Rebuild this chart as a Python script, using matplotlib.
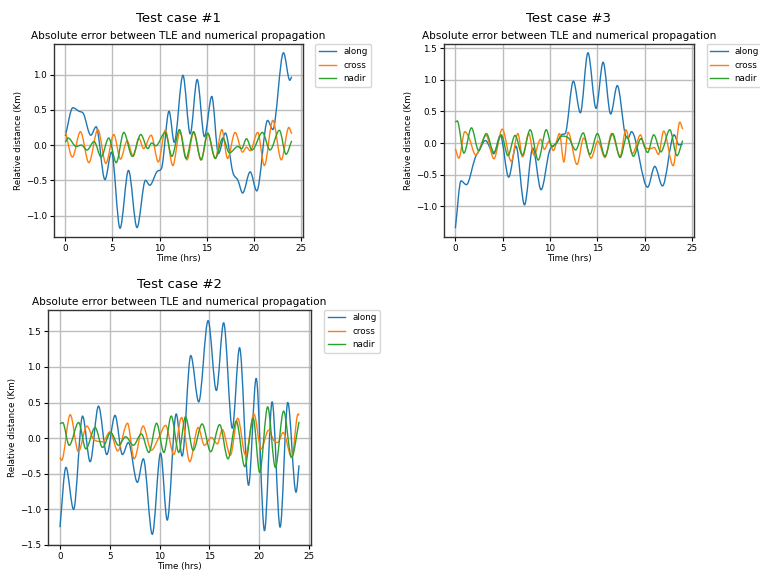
#!/usr/bin/env python3
"""
TLE vs numerical propagation: along / cross / nadir error for three test cases.
Values are the turning points read off the original figure (time in hrs, km).
"""
import numpy as np
import matplotlib

matplotlib.use("Agg")
import matplotlib.pyplot as plt
from matplotlib.path import Path
from matplotlib.patches import PathPatch
from matplotlib.lines import Line2D

# ---- test case #1
c1_along_t = [0, 0.8, 1.45, 1.9, 2.7, 3.27, 4.2, 4.9, 5.8, 6.7, 7.6, 8.5, 8.95, 9.7, 10.2, 11.0,
              11.55, 12.47, 13.24, 13.98, 14.75, 15.53, 16.23, 16.97, 17.75, 18.3, 18.8, 19.6,
              20.3, 21.45, 22.0, 23.13, 23.8, 24.0]
c1_along = [0.13, 0.53, 0.48, 0.45, 0.14, 0.26, -0.49, -0.10, -1.18, -0.36, -1.17, -0.50, -0.57,
            -0.38, -0.33, 0.48, 0.04, 0.99, 0.16, 0.93, 0.12, 0.69, -0.12, 0.17, -0.38, -0.50,
            -0.68, -0.38, -0.65, 0.35, 0.22, 1.31, 0.92, 0.97]
c1_cross_t = [0, 0.75, 1.6, 2.5, 3.45, 4.3, 5.14, 5.85, 6.55, 7.2, 7.8, 8.3, 9.1, 9.86, 10.6, 11.4,
              12.15, 12.9, 13.6, 14.4, 15.1, 15.9, 16.6, 17.2, 18.0, 18.8, 19.2, 19.6, 20.4, 21.1,
              22.0, 22.9, 23.7, 24.0]
c1_cross = [0.20, -0.17, 0.19, -0.25, 0.22, -0.26, 0.15, -0.20, 0.06, -0.16, 0.10, -0.05, 0.14,
            -0.24, 0.21, -0.29, 0.19, -0.21, 0.18, -0.21, 0.16, -0.19, 0.22, -0.19, 0.18, -0.10,
            -0.03, -0.08, 0.18, -0.29, 0.35, -0.21, 0.25, 0.16]
c1_nadir_t = [0, 0.3, 1.15, 1.7, 2.3, 3.05, 3.8, 4.6, 5.4, 6.2, 7.1, 8.0, 8.75, 9.15, 9.6, 10.6,
              11.3, 12.1, 12.8, 13.6, 14.4, 15.1, 15.9, 16.7, 17.4, 18.3, 18.7, 19.2, 19.8, 20.9,
              21.7, 22.7, 23.4, 24.0]
c1_nadir = [0.04, 0.10, -0.02, 0.0, -0.07, 0.05, -0.17, 0.10, -0.25, 0.18, -0.16, 0.15, -0.05,
            0.03, -0.01, 0.18, -0.16, 0.22, -0.19, 0.19, -0.21, 0.17, -0.19, 0.10, -0.11, -0.02,
            -0.05, 0.09, -0.07, 0.18, -0.07, 0.21, -0.13, 0.06]

# ---- test case #2
c2_along_t = [0, 0.6, 1.37, 2.27, 3.03, 3.87, 4.7, 5.53, 6.27, 6.87, 7.77, 8.37, 9.27, 10.1,
              10.77, 11.67, 12.27, 13.13, 13.93, 14.87, 15.7, 16.43, 17.3, 18.03, 18.93, 19.7,
              20.53, 21.3, 22.1, 22.87, 23.7, 24.0]
c2_along = [-1.25, -0.41, -1.0, 0.31, -0.33, 0.45, -0.23, 0.32, -0.23, -0.06, -0.62, -0.29,
            -1.35, -0.21, -1.15, 0.34, -0.25, 1.16, 0.51, 1.65, 0.67, 1.62, 0.14, 1.27, -0.66,
            0.84, -1.30, 0.51, -1.25, 0.50, -0.76, -0.38]
c2_cross_t = [0, 0.17, 1.03, 1.85, 2.7, 3.4, 4.3, 5.03, 5.8, 6.78, 7.45, 8.35, 9.17, 9.9, 10.6,
              11.43, 12.2, 13.03, 13.87, 14.5, 15.2, 15.8, 16.3, 17.1, 17.85, 18.63, 19.47, 20.2,
              20.93, 21.5, 21.87, 22.4, 23.27, 23.9, 24.0]
c2_cross = [-0.27, -0.31, 0.33, -0.19, 0.17, -0.02, -0.05, 0.09, -0.18, 0.21, -0.29, 0.17,
            -0.17, 0.0, 0.18, -0.23, 0.29, -0.33, 0.15, -0.10, 0.01, -0.08, 0.12, -0.24, 0.28,
            -0.24, 0.34, -0.15, 0.11, -0.04, -0.06, 0.08, -0.27, 0.34, 0.32]
c2_nadir_t = [0, 0.27, 0.93, 1.87, 2.6, 3.53, 4.27, 5.1, 5.87, 6.6, 7.37, 8.17, 8.93, 9.7, 10.43,
              11.17, 11.93, 12.6, 13.37, 14.27, 15.13, 16.03, 16.87, 17.7, 18.55, 19.4, 20.05,
              20.85, 21.62, 22.45, 23.25, 24.0]
c2_nadir = [0.20, 0.22, -0.10, 0.22, -0.15, 0.15, -0.13, 0.08, -0.10, 0.02, -0.10, 0.06, -0.20,
            0.21, -0.20, 0.31, -0.20, 0.30, -0.17, 0.20, -0.19, 0.19, -0.29, 0.24, -0.40, 0.28,
            -0.48, 0.44, -0.41, 0.38, -0.27, 0.23]

# ---- test case #3
c3_along_t = [0, 0.6, 1.16, 2.1, 2.46, 3.17, 4.05, 4.75, 5.63, 6.4, 7.3, 8.17, 9.05, 9.93, 10.7,
              11.2, 11.6, 12.46, 13.2, 14.0, 14.86, 15.6, 16.4, 17.1, 17.9, 18.25, 18.6, 20.3,
              21.06, 21.87, 23.1, 23.6, 24.0]
c3_along = [-1.35, -0.60, -0.66, -0.23, -0.13, 0.04, -0.17, 0.12, -0.54, -0.05, -0.98, -0.08,
            -0.74, -0.13, 0.0, 0.13, 0.15, 0.98, 0.48, 1.43, 0.55, 1.28, 0.46, 0.91, 0.16, 0.08,
            0.18, -0.70, -0.37, -0.68, 0.13, -0.03, -0.02]
c3_cross_t = [0, 0.37, 1.0, 1.45, 2.15, 3.25, 4.07, 4.95, 5.9, 6.6, 7.1, 7.75, 8.3, 9.0, 9.4,
              9.9, 10.35, 11.0, 11.45, 11.9, 12.85, 13.55, 14.33, 15.05, 15.8, 16.5, 17.4, 18.0,
              18.7, 19.55, 20.0, 20.6, 21.0, 21.45, 22.0, 23.0, 23.7, 24.0]
c3_cross = [-0.09, -0.24, 0.18, 0.08, -0.19, 0.12, -0.25, 0.22, -0.29, 0.15, -0.22, 0.15, -0.19,
            0.06, -0.10, 0.03, -0.12, 0.15, -0.30, 0.17, -0.34, 0.08, -0.24, 0.03, -0.23, 0.15,
            -0.21, 0.21, -0.17, 0.13, -0.07, -0.09, -0.07, -0.18, 0.19, -0.36, 0.33, 0.22]
c3_nadir_t = [0, 0.2, 0.9, 1.7, 2.46, 3.27, 4.08, 4.85, 5.55, 6.3, 7.08, 7.9, 8.75, 9.6, 10.2,
              11.3, 12.0, 12.7, 13.5, 14.2, 15.0, 15.8, 16.6, 17.4, 18.1, 18.8, 19.6, 20.3, 20.95,
              21.7, 22.65, 23.4, 24.0]
c3_nadir = [0.33, 0.35, -0.16, 0.24, -0.12, 0.15, -0.15, 0.13, -0.20, 0.12, -0.19, 0.21, -0.27,
            0.21, -0.06, 0.11, 0.07, -0.11, 0.16, -0.18, 0.15, -0.21, 0.15, -0.23, 0.10, -0.21,
            0.07, -0.15, 0.13, -0.14, 0.21, -0.20, 0.04]

SERIES = ["along", "cross", "nadir"]
COLORS = ["#1f77b4", "#ff7f0e", "#2ca02c"]
SUBTITLE = "Absolute error between TLE and numerical propagation"

W, H = 760, 573
SMALL = 6.3


def smooth_path(t, y):
    """Cubic Bezier through the read turning points (flat tangent at extrema)."""
    t = np.asarray(t, float)
    y = np.asarray(y, float)
    n = len(t)
    d = np.diff(y) / np.diff(t)
    m = np.zeros(n)
    m[0], m[-1] = d[0], d[-1]
    for i in range(1, n - 1):
        if d[i - 1] * d[i] > 0:
            s = (y[i + 1] - y[i - 1]) / (t[i + 1] - t[i - 1])
            m[i] = np.sign(s) * min(abs(s), 3 * abs(d[i - 1]), 3 * abs(d[i]))
    verts = [(t[0], y[0])]
    codes = [Path.MOVETO]
    for i in range(n - 1):
        h = (t[i + 1] - t[i]) / 3.0
        verts += [(t[i] + h, y[i] + m[i] * h), (t[i + 1] - h, y[i + 1] - m[i + 1] * h),
                  (t[i + 1], y[i + 1])]
        codes += [Path.CURVE4] * 3
    return Path(verts, codes)


def panel(fig, rect_px, title, data):
    x0, x1, y0, y1 = rect_px
    ax = fig.add_axes([x0 / W, 1 - y1 / H, (x1 - x0) / W, (y1 - y0) / H])
    for (t, y), col in zip(data, COLORS):
        ax.add_patch(PathPatch(smooth_path(t, y), fill=False, edgecolor=col, lw=1.0))
    ax.autoscale_view()
    ax.set_xticks([0, 5, 10, 15, 20, 25])
    ax.grid(True, color="#bdbdbd", lw=1.0)
    ax.set_axisbelow(True)
    for sp in ax.spines.values():
        sp.set_linewidth(1.0)
        sp.set_color("#333333")
    ax.tick_params(labelsize=SMALL, length=3, width=0.8, pad=2)
    ax.set_xlabel("Time (hrs)", fontsize=SMALL, labelpad=1)
    ax.set_ylabel("Relative distance (Km)", fontsize=SMALL, labelpad=2)
    ax.set_title(SUBTITLE, fontsize=7.6, pad=3.5)
    ax.annotate(title, xy=(0.5, 1), xycoords="axes fraction", xytext=(0, 15.5),
                textcoords="offset points", ha="center", va="baseline", fontsize=9.5)
    handles = [Line2D([], [], color=c, lw=1.0) for c in COLORS]
    ax.legend(handles, SERIES, loc="upper left", bbox_to_anchor=(1.05, 1), borderaxespad=0,
              fontsize=SMALL)
    return ax


def main():
    fig = plt.figure(figsize=(W / 100, H / 100), dpi=100)
    panel(fig, (54, 303, 44, 237), "Test case #1",
          [(c1_along_t, c1_along), (c1_cross_t, c1_cross), (c1_nadir_t, c1_nadir)])
    panel(fig, (444, 694, 44, 237), "Test case #3",
          [(c3_along_t, c3_along), (c3_cross_t, c3_cross), (c3_nadir_t, c3_nadir)])
    panel(fig, (48, 311, 310, 545), "Test case #2",
          [(c2_along_t, c2_along), (c2_cross_t, c2_cross), (c2_nadir_t, c2_nadir)])
    fig.savefig("out.png", dpi=100)
    plt.close(fig)


if __name__ == "__main__":
    main()
